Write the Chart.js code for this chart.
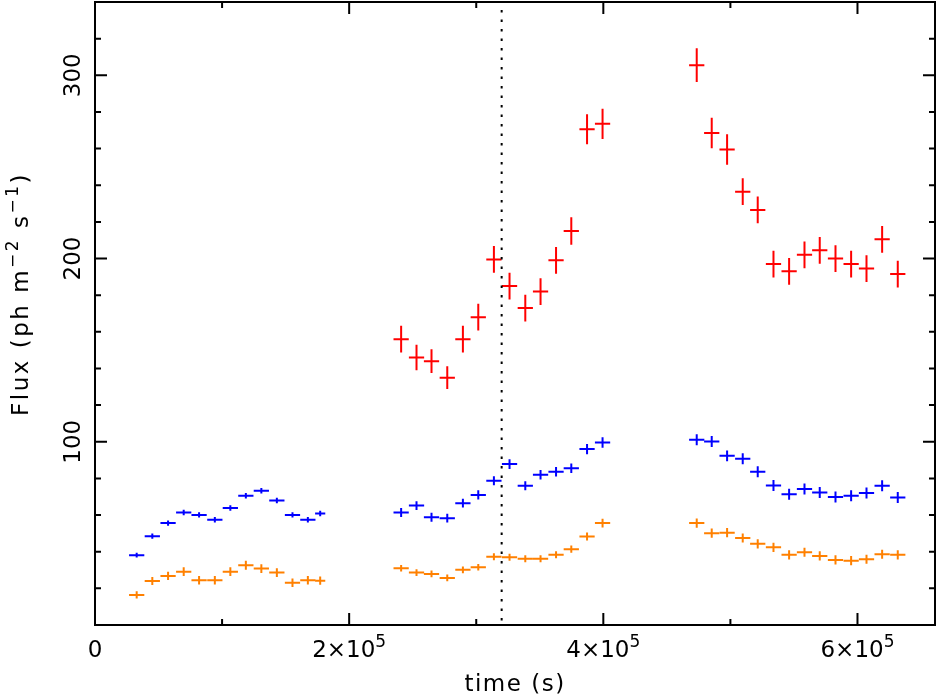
<!DOCTYPE html>
<html>
<head>
<meta charset="utf-8">
<script src="https://cdn.jsdelivr.net/npm/chart.js@4"></script>
<style>
  body { margin: 0; background: #fff; }
  #wrap { width: 938px; height: 697px; }
</style>
</head>
<body>
<div id="wrap"><canvas id="myChart" width="938" height="697"></canvas></div>
<script>
// tiempos (s) de cada bin, 3 bloques de observacion
const tiempo = [
  32800, 45100, 57500, 69800, 81900, 94300, 106500, 118700, 130900, 143100, 155400, 167500, 177200,
  240900, 253000, 264800, 277200, 289500, 301600, 313900, 326200, 338600, 350600, 362800, 374800, 387200, 399400,
  473500, 485300, 497400, 509700, 521500, 533900, 546200, 558300, 570300, 582700, 595000, 607100, 619400, 631700
];
const tiempoErr = [
  6000, 6000, 6000, 6000, 6000, 6000, 6000, 6000, 6000, 6000, 6000, 6000, 4000,
  6000, 6000, 6000, 6000, 6000, 6000, 6000, 6000, 6000, 6000, 6000, 6000, 6000, 6000,
  6000, 6000, 6000, 6000, 6000, 6000, 6000, 6000, 6000, 6000, 6000, 6000, 6000, 6000
];
const fluxAzul = [
  38.1, 48.5, 55.6, 61.4, 60.1, 57.5, 63.8, 70.5, 73.2, 67.9, 60.1, 57.5, 60.8,
  61.4, 65.2, 58.8, 58.3, 66.5, 71.0, 78.7, 87.8, 76.0, 82.0, 83.6, 85.6, 96.0, 99.6,
  101.1, 100.2, 92.3, 90.7, 83.6, 76.1, 71.4, 74.2, 72.3, 69.8, 70.5, 72.0, 76.0, 69.6
];
const errAzul = [
  1.3, 1.4, 1.4, 1.5, 1.5, 1.5, 1.5, 1.5, 1.5, 1.5, 1.5, 1.5, 1.5,
  2.4, 2.4, 2.4, 2.4, 2.4, 2.5, 2.5, 2.6, 2.5, 2.6, 2.6, 2.6, 2.8, 2.8,
  3.0, 3.0, 3.0, 3.0, 3.0, 3.0, 3.0, 3.0, 3.0, 3.0, 3.0, 3.0, 3.0, 3.0
];
const fluxNaranja = [
  16.4, 24.0, 26.8, 29.1, 24.4, 24.4, 29.1, 32.6, 30.8, 28.6, 23.1, 24.4, 24.2,
  31.0, 28.6, 27.9, 25.7, 30.1, 31.5, 37.3, 37.0, 36.2, 36.2, 38.3, 41.4, 48.3, 55.6,
  55.6, 50.1, 50.4, 47.5, 44.3, 42.4, 38.3, 39.7, 37.7, 35.5, 35.1, 35.9, 38.6, 38.3
];
const errNaranja = [
  2.0, 2.2, 2.3, 2.4, 2.3, 2.3, 2.4, 2.5, 2.4, 2.4, 2.3, 2.3, 2.3,
  1.8, 1.8, 1.8, 1.8, 1.8, 1.8, 1.9, 1.9, 1.9, 1.9, 1.9, 2.0, 2.2, 2.4,
  2.5, 2.5, 2.5, 2.5, 2.5, 2.5, 2.5, 2.5, 2.5, 2.5, 2.5, 2.5, 2.5, 2.5
];
// rojo solo existe en los bloques 2 y 3
const fluxRojo = [
  156, 146, 144, 135, 156, 168, 199.5, 185, 173, 182, 199, 215, 270.5, 273.5,
  305.5, 268.5, 259.5, 236.5, 226.5, 197, 193, 202, 204.5, 200, 197, 194.5, 210.5, 191.5
];
const errRojo = [
  7.3, 7.0, 6.5, 6.2, 7.3, 7.3, 7.3, 7.3, 7.3, 7.3, 7.3, 7.5, 8.2, 8.2,
  9.2, 8.3, 8.3, 7.3, 7.3, 7.3, 7.3, 7.3, 7.3, 7.3, 7.3, 7.3, 7.3, 7.3
];
const tiempoMarca = 320000; // linea punteada

const xTicks = [0, 200000, 400000, 600000];
const xTickLabels = ['0', '2×10^5', '4×10^5', '6×10^5'];
const xMenores = [100000, 300000, 500000];
const yTicks = [100, 200, 300];
const yTickLabels = ['100', '200', '300'];
const yMenores = [20, 40, 60, 80, 120, 140, 160, 180, 220, 240, 260, 280, 320];

const ctx = document.getElementById('myChart').getContext('2d');
const FUENTE = '"DejaVu Sans", sans-serif';

function puntos(t, f, tErr, fErr){
    let lista = [];
    for(let i = 0; i < f.length; i++){
        lista.push({x: t[i], y: f[i], xErr: tErr[i], yErr: fErr[i]});
    }
    return lista;
}

// barras de error en cruz, con las escalas del grafico
const barrasError = {
    id: 'barrasError',
    afterDatasetsDraw(chart){
        const {ctx, scales: {x, y}} = chart;
        ctx.save();
        ctx.lineWidth = 2;
        chart.data.datasets.forEach(ds => {
            ctx.strokeStyle = ds.borderColor;
            ds.data.forEach(p => {
                const px = x.getPixelForValue(p.x);
                const py = y.getPixelForValue(p.y);
                ctx.beginPath();
                ctx.moveTo(x.getPixelForValue(p.x - p.xErr), py);
                ctx.lineTo(x.getPixelForValue(p.x + p.xErr), py);
                ctx.moveTo(px, y.getPixelForValue(p.y - p.yErr));
                ctx.lineTo(px, y.getPixelForValue(p.y + p.yErr));
                ctx.stroke();
            });
        });
        // linea punteada vertical
        const mx = x.getPixelForValue(tiempoMarca);
        ctx.strokeStyle = '#000';
        ctx.setLineDash([2.5, 7]);
        ctx.beginPath();
        ctx.moveTo(mx, chart.chartArea.top + 8);
        ctx.lineTo(mx, chart.chartArea.bottom);
        ctx.stroke();
        ctx.restore();
    }
};

function textoSup(ctx, partes, size, espacio){
    // partes: [texto, esSuperindice]
    ctx.letterSpacing = (espacio || 0) + 'px';
    let ancho = 0;
    partes.forEach(p => {
        ctx.font = (p[1] ? Math.round(size * 0.72) : size) + 'px ' + FUENTE;
        ancho += ctx.measureText(p[0]).width;
    });
    let xx = -ancho / 2;
    partes.forEach(p => {
        ctx.font = (p[1] ? Math.round(size * 0.72) : size) + 'px ' + FUENTE;
        ctx.fillText(p[0], xx, p[1] ? -size * 0.42 : 0);
        xx += ctx.measureText(p[0]).width;
    });
    ctx.letterSpacing = '0px';
}

// marco, ticks hacia dentro y textos de los ejes
const ejes = {
    id: 'ejes',
    afterDraw(chart){
        const {ctx, chartArea: a, scales: {x, y}} = chart;
        ctx.save();
        ctx.strokeStyle = '#000';
        ctx.lineWidth = 2;
        ctx.strokeRect(a.left, a.top, a.right - a.left, a.bottom - a.top);
        const marcaX = (v, l) => {
            const px = x.getPixelForValue(v);
            ctx.beginPath();
            ctx.moveTo(px, a.bottom); ctx.lineTo(px, a.bottom - l);
            ctx.moveTo(px, a.top); ctx.lineTo(px, a.top + l);
            ctx.stroke();
        };
        const marcaY = (v, l) => {
            const py = y.getPixelForValue(v);
            ctx.beginPath();
            ctx.moveTo(a.left, py); ctx.lineTo(a.left + l, py);
            ctx.moveTo(a.right, py); ctx.lineTo(a.right - l, py);
            ctx.stroke();
        };
        xTicks.forEach(v => marcaX(v, 12));
        xMenores.forEach(v => marcaX(v, 6));
        yTicks.forEach(v => marcaY(v, 12));
        yMenores.forEach(v => marcaY(v, 6));

        ctx.fillStyle = '#000';
        ctx.textBaseline = 'alphabetic';
        ctx.textAlign = 'left';
        xTicks.forEach((v, i) => {
            const partes = xTickLabels[i].split('^');
            ctx.save();
            ctx.translate(x.getPixelForValue(v), a.bottom + 32);
            textoSup(ctx, partes.length > 1 ? [[partes[0], false], [partes[1], true]] : [[partes[0], false]], 23);
            ctx.restore();
        });
        yTicks.forEach((v, i) => {
            ctx.save();
            ctx.translate(a.left - 15, y.getPixelForValue(v));
            ctx.rotate(-Math.PI / 2);
            textoSup(ctx, [[yTickLabels[i], false]], 23);
            ctx.restore();
        });
        // titulos
        ctx.save();
        ctx.translate((a.left + a.right) / 2, 691);
        textoSup(ctx, [['time (s)', false]], 23, 1.5);
        ctx.restore();
        ctx.save();
        ctx.translate(28, 294);
        ctx.rotate(-Math.PI / 2);
        textoSup(ctx, [['Flux (ph m', false], ['\u22122', true], [' s', false], ['\u22121', true], [')', false]], 23, 2.5);
        ctx.restore();
        ctx.restore();
    }
};

const grafico = new Chart(ctx, {
    type: 'scatter',
    data: {
        datasets: [
            {label: 'rojo', data: puntos(tiempo.slice(13), fluxRojo, tiempoErr.slice(13), errRojo), borderColor: '#ff0000', backgroundColor: '#ff0000'},
            {label: 'azul', data: puntos(tiempo, fluxAzul, tiempoErr, errAzul), borderColor: '#0000ff', backgroundColor: '#0000ff'},
            {label: 'naranja', data: puntos(tiempo, fluxNaranja, tiempoErr, errNaranja), borderColor: '#ff8000', backgroundColor: '#ff8000'}
        ]
    },
    options: {
        responsive: false,
        animation: false,
        devicePixelRatio: 1,
        elements: {point: {radius: 0, hoverRadius: 0}},
        layout: {padding: {top: 2, right: 3, left: 0, bottom: 0}},
        plugins: {legend: {display: false}, tooltip: {enabled: false}},
        scales: {
            x: {
                type: 'linear', min: 0, max: 661000, bounds: 'data',
                ticks: {display: false},
                grid: {display: false}, border: {display: false},
                afterFit: s => { s.height = 72; }
            },
            y: {
                type: 'linear', min: 0, max: 340, bounds: 'data',
                ticks: {display: false},
                grid: {display: false}, border: {display: false},
                afterFit: s => { s.width = 95; }
            }
        }
    },
    plugins: [barrasError, ejes]
});
</script>
</body>
</html>
